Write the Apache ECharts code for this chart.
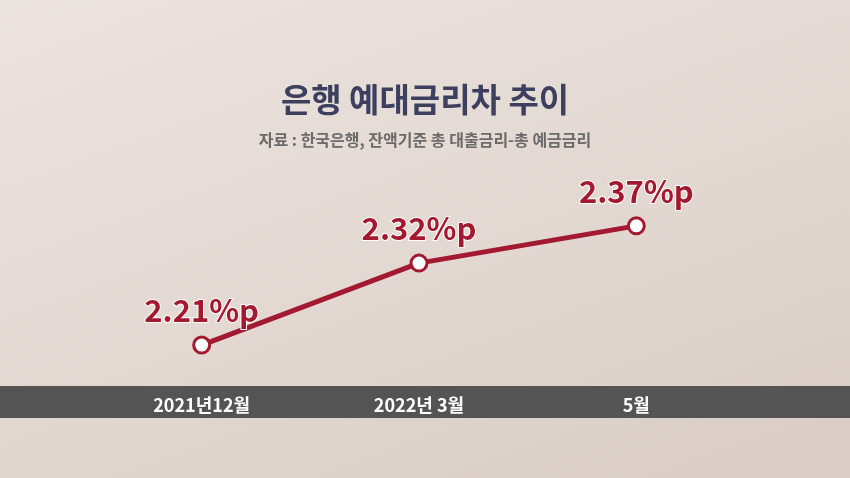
<!DOCTYPE html>
<html><head><meta charset="utf-8">
<script src="https://cdn.jsdelivr.net/npm/echarts@6/dist/echarts.min.js"></script>
<style>html,body{margin:0;padding:0}#c{width:850px;height:478px;background:linear-gradient(160deg,#ece4df 0%,#e2d7d1 55%,#d9ccc6 100%)}</style>
</head><body><div id="c"></div>
<script>
const categories = ['2021년12월', '2022년 3월', '5월'];
const values = [2.21, 2.32, 2.37];
const labels = ['2.21%p', '2.32%p', '2.37%p'];
const chart = echarts.init(document.getElementById('c'));
const F = '"Noto Sans CJK KR", sans-serif';
chart.setOption({
  title: [
    {text: '은행 예대금리차 추이', left: 'center', top: 78, textStyle: {fontFamily: F, fontSize: 33, fontWeight: 'bold', color: '#3c3f5e'}},
    {text: '자료 : 한국은행, 잔액기준 총 대출금리-총 예금금리', left: 'center', top: 127, textStyle: {fontFamily: F, fontSize: 16, fontWeight: 'bold', color: '#6a6a6a'}}
  ],
  graphic: [{type: 'rect', z: 0, shape: {x: 0, y: 386, width: 850, height: 32}, style: {fill: '#545454'}}],
  grid: {left: 93, right: 105, top: 129, bottom: 51},
  xAxis: {type: 'category', data: categories, axisLine: {show: false}, axisTick: {show: false},
    axisLabel: {margin: -22, verticalAlign: 'middle', color: '#ffffff', fontFamily: F, fontSize: 18, fontWeight: 'bold'}, z: 5},
  yAxis: {type: 'value', min: 2.1, max: 2.5, show: false},
  series: [{
    type: 'line', data: values, z: 3,
    lineStyle: {color: '#a3192f', width: 5},
    symbol: 'circle', symbolSize: 16,
    itemStyle: {color: '#ffffff', borderColor: '#a3192f', borderWidth: 3},
    label: {show: true, position: 'top', distance: 10, formatter: p => labels[p.dataIndex],
      color: '#a3192f', fontFamily: F, fontSize: 31, fontWeight: 'bold', textBorderColor: '#ffffff', textBorderWidth: 2}
  }]
});
</script></body></html>
